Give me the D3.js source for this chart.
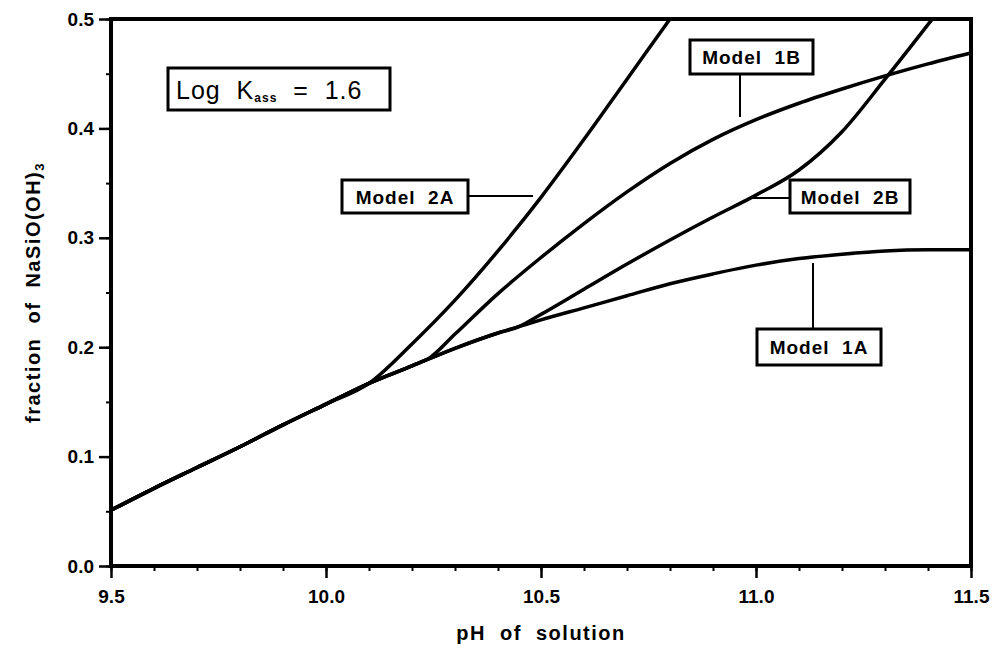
<!DOCTYPE html>
<html>
<head>
<meta charset="utf-8">
<script src="https://cdn.jsdelivr.net/npm/d3@7"></script>
<style>
  body { margin: 0; background: #fff; }
  text { font-family: "Liberation Sans", Arial, sans-serif; fill: #000; white-space: pre; }
</style>
</head>
<body>
<div id="chart"></div>
<script>
// pH grid + fraction values, one pair of arrays per model
const ph1A   = [9.5, 9.6, 9.7, 9.8, 9.9, 10.0, 10.1, 10.2, 10.3, 10.4, 10.45, 10.5, 10.6, 10.7, 10.8, 10.9, 11.0, 11.1, 11.2, 11.3, 11.4, 11.5];
const frac1A = [0.051, 0.071, 0.09, 0.109, 0.129, 0.148, 0.167, 0.183, 0.199, 0.213, 0.219, 0.225, 0.236, 0.247, 0.258, 0.267, 0.275, 0.281, 0.285, 0.288, 0.289, 0.289];

const ph1B   = [9.5, 9.6, 9.7, 9.8, 9.9, 10.0, 10.1, 10.2, 10.24, 10.3, 10.4, 10.5, 10.6, 10.7, 10.8, 10.9, 11.0, 11.1, 11.2, 11.3, 11.4, 11.5];
const frac1B = [0.051, 0.071, 0.09, 0.109, 0.129, 0.148, 0.167, 0.183, 0.19, 0.212, 0.249, 0.282, 0.313, 0.342, 0.368, 0.39, 0.408, 0.423, 0.436, 0.448, 0.459, 0.469];

const ph2A   = [9.5, 9.6, 9.7, 9.8, 9.9, 10.0, 10.1, 10.2, 10.3, 10.4, 10.5, 10.6, 10.7, 10.8];
const frac2A = [0.051, 0.071, 0.09, 0.109, 0.129, 0.148, 0.167, 0.203, 0.243, 0.288, 0.337, 0.39, 0.445, 0.5];

const ph2B   = [9.5, 9.6, 9.7, 9.8, 9.9, 10.0, 10.1, 10.2, 10.3, 10.4, 10.45, 10.5, 10.6, 10.7, 10.8, 10.9, 11.0, 11.1, 11.2, 11.3, 11.41];
const frac2B = [0.051, 0.071, 0.09, 0.109, 0.129, 0.148, 0.167, 0.183, 0.199, 0.213, 0.219, 0.23, 0.253, 0.276, 0.298, 0.319, 0.339, 0.362, 0.397, 0.445, 0.5];

const xTicks = [9.5, 10.0, 10.5, 11.0, 11.5];
const yTicks = [0.0, 0.1, 0.2, 0.3, 0.4, 0.5];

const models = [
  {name: 'Model  1A', ph: ph1A, frac: frac1A},
  {name: 'Model  1B', ph: ph1B, frac: frac1B},
  {name: 'Model  2A', ph: ph2A, frac: frac2A},
  {name: 'Model  2B', ph: ph2B, frac: frac2B}
];

const width = 996;
const height = 655;
const margin = {left: 111, right: 25, top: 19, bottom: 89};

const svg = d3.select('#chart').append('svg')
  .attr('width', width)
  .attr('height', height);

const x = d3.scaleLinear().domain([9.5, 11.5]).range([margin.left, width - margin.right]);
const y = d3.scaleLinear().domain([0, 0.5]).range([height - margin.bottom, margin.top]);

// minor ticks
const xMinor = d3.range(9.5, 11.5001, 0.1).map(v => +v.toFixed(2));
const yMinor = d3.range(0, 0.5001, 0.05).map(v => +v.toFixed(3));

svg.append('g')
  .attr('transform', `translate(0,${y(0)})`)
  .call(d3.axisBottom(x).tickValues(xMinor).tickSize(5).tickFormat(''))
  .call(g => g.select('.domain').remove())
  .call(g => g.selectAll('line').attr('stroke-width', 2));

svg.append('g')
  .attr('transform', `translate(${x(9.5)},0)`)
  .call(d3.axisLeft(y).tickValues(yMinor).tickSize(5).tickFormat(''))
  .call(g => g.select('.domain').remove())
  .call(g => g.selectAll('line').attr('stroke-width', 2));

// major ticks + labels
svg.append('g')
  .attr('transform', `translate(0,${y(0)})`)
  .call(d3.axisBottom(x).tickValues(xTicks).tickSize(12).tickPadding(12).tickFormat(d3.format('.1f')))
  .call(g => g.select('.domain').remove())
  .call(g => g.selectAll('line').attr('stroke-width', 2.5))
  .call(g => g.selectAll('text').attr('font-size', 19).attr('font-weight', 'bold')
    .style('font-family', '"Liberation Sans", Arial, sans-serif'));

svg.append('g')
  .attr('transform', `translate(${x(9.5)},0)`)
  .call(d3.axisLeft(y).tickValues(yTicks).tickSize(12).tickPadding(5).tickFormat(d3.format('.1f')))
  .call(g => g.select('.domain').remove())
  .call(g => g.selectAll('line').attr('stroke-width', 2.5))
  .call(g => g.selectAll('text').attr('font-size', 19).attr('font-weight', 'bold')
    .style('font-family', '"Liberation Sans", Arial, sans-serif'));

// frame
svg.append('rect')
  .attr('x', x(9.5)).attr('y', y(0.5))
  .attr('width', x(11.5) - x(9.5)).attr('height', y(0) - y(0.5))
  .attr('fill', 'none').attr('stroke', '#000').attr('stroke-width', 4);

// curves
const line = d3.line()
  .x(d => x(d[0]))
  .y(d => y(d[1]))
  .curve(d3.curveMonotoneX);

svg.selectAll('.curve').data(models).join('path')
  .attr('class', 'curve')
  .attr('d', m => line(m.ph.map((p, i) => [p, m.frac[i]])))
  .attr('fill', 'none')
  .attr('stroke', '#000')
  .attr('stroke-width', 3.5)
  .attr('stroke-linejoin', 'round');

// label boxes with leader lines
const labels = [
  {text: 'Model  1B', bx: 690, by: 40, bw: 123, bh: 34, lx1: 740, ly1: 74, lx2: 740, ly2: 117},
  {text: 'Model  2A', bx: 342, by: 180, bw: 126, bh: 33, lx1: 468, ly1: 196, lx2: 533, ly2: 196},
  {text: 'Model  2B', bx: 790, by: 180, bw: 120, bh: 33, lx1: 790, ly1: 198, lx2: 750, ly2: 198},
  {text: 'Model  1A', bx: 757, by: 329, bw: 124, bh: 36, lx1: 813, ly1: 329, lx2: 813, ly2: 263}
];

labels.forEach(l => {
  svg.append('line')
    .attr('x1', l.lx1).attr('y1', l.ly1).attr('x2', l.lx2).attr('y2', l.ly2)
    .attr('stroke', '#000').attr('stroke-width', 2);
  svg.append('rect')
    .attr('x', l.bx).attr('y', l.by).attr('width', l.bw).attr('height', l.bh)
    .attr('fill', '#fff').attr('stroke', '#000').attr('stroke-width', 3);
  svg.append('text')
    .attr('x', l.bx + l.bw / 2).attr('y', l.by + l.bh / 2 + 7)
    .attr('text-anchor', 'middle')
    .attr('font-size', 19).attr('font-weight', 'bold')
    .attr('letter-spacing', 1)
    .text(l.text);
});

// Log K box
svg.append('rect')
  .attr('x', 168).attr('y', 68).attr('width', 222).attr('height', 42)
  .attr('fill', '#fff').attr('stroke', '#000').attr('stroke-width', 3);
const kText = svg.append('text')
  .attr('x', 176).attr('y', 99)
  .attr('font-size', 25)
  .attr('letter-spacing', 1);
kText.append('tspan').text('Log  K');
kText.append('tspan').attr('font-size', 12).attr('font-weight', 'bold').attr('dy', 3).text('ass');
kText.append('tspan').attr('dy', -3).text('  =  1.6');

// axis titles
svg.append('text')
  .attr('x', x(10.5)).attr('y', 640)
  .attr('text-anchor', 'middle')
  .attr('font-size', 20).attr('font-weight', 'bold')
  .attr('letter-spacing', 1.5)
  .text('pH  of  solution');

const yTitle = svg.append('text')
  .attr('transform', `translate(40,${y(0.25)}) rotate(-90)`)
  .attr('text-anchor', 'middle')
  .attr('font-size', 20).attr('font-weight', 'bold')
  .attr('letter-spacing', 1.5);
yTitle.append('tspan').text('fraction  of  NaSiO(OH)');
yTitle.append('tspan').attr('font-size', 13).attr('dy', 4).text('3');
</script>
</body>
</html>
